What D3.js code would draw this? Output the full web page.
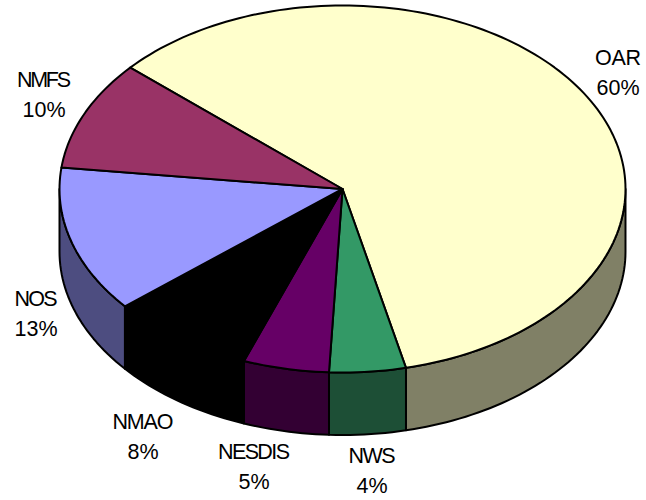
<!DOCTYPE html>
<html>
<head>
<meta charset="utf-8">
<script src="https://cdn.jsdelivr.net/npm/d3@7"></script>
<style>
  html, body { margin: 0; padding: 0; background: #fff; }
  text { font-family: "Liberation Sans", Arial, sans-serif; font-size: 21.5px; fill: #000; text-anchor: middle; }
</style>
</head>
<body>
<div id="chart"></div>
<script>
// Chart data, clockwise from the OAR slice
const agencies = ["OAR", "NWS", "NESDIS", "NMAO", "NOS", "NMFS"];
const shares = [59.9, 4.36, 4.9, 8.3, 12.9, 9.64];
const shareLabels = ["60%", "4%", "5%", "8%", "13%", "10%"];

// Colors for the top face and the side wall
const topColors = ["#FFFFCC", "#339966", "#660066", "#000000", "#9999FF", "#993366"];
const wallColors = ["#808066", "#1D4F36", "#330033", "#000000", "#4D4D80", "#4D1A33"];

// Label placement, by hand to sit where the original has them
const labelX = [618, 372, 254, 143, 36, 44];
const labelY = [65, 463, 459, 429, 306, 87];
const nameWidth = [46, 47, 72, 61, 43, 54];

const width = 646;
const height = 500;
const depth = 62.5;

const svg = d3.select("#chart")
    .append("svg")
    .attr("width", width)
    .attr("height", height);

// Unit circle squashed to the tilted ellipse
const x = d3.scaleLinear().domain([-1, 1]).range([59.5, 625.5]);
const y = d3.scaleLinear().domain([-1, 1]).range([5.5, 372.5]);

const pie = d3.pie()
    .sort(null)
    .startAngle(-48.6 * Math.PI / 180)
    .endAngle(311.4 * Math.PI / 180);

const slices = pie(shares);

const line = d3.line();

// Points along the rim between two angles (0 = top, clockwise)
function rim(a0, a1, dy) {
    const n = Math.max(2, Math.ceil((a1 - a0) * 40));
    return d3.range(n + 1).map(function(i) {
        const a = a0 + (a1 - a0) * i / n;
        return [x(Math.sin(a)), y(-Math.cos(a)) + dy];
    });
}

// Side walls only show on the front half
const frontStart = Math.PI / 2;
const frontEnd = Math.PI * 3 / 2;

slices.forEach(function(d, i) {
    const a0 = Math.max(d.startAngle, frontStart);
    const a1 = Math.min(d.endAngle, frontEnd);
    if (a1 <= a0) return;
    const pts = rim(a0, a1, 0).concat(rim(a0, a1, depth).reverse());
    svg.append("path")
        .attr("d", line(pts) + "Z")
        .attr("fill", wallColors[i])
        .attr("stroke", "#000")
        .attr("stroke-width", 2)
        .attr("stroke-linejoin", "round");
});

// Top face
svg.selectAll(".slice")
    .data(slices)
    .join("path")
    .attr("class", "slice")
    .attr("d", d => line([[x(0), y(0)]].concat(rim(d.startAngle, d.endAngle, 0))) + "Z")
    .attr("fill", (d, i) => topColors[i])
    .attr("stroke", "#000")
    .attr("stroke-width", 2)
    .attr("stroke-linejoin", "round");

// Labels
const labels = svg.selectAll(".label")
    .data(agencies)
    .join("g")
    .attr("class", "label")
    .attr("transform", (d, i) => `translate(${labelX[i]}, ${labelY[i]})`);

labels.append("text")
    .attr("textLength", (d, i) => nameWidth[i])
    .attr("lengthAdjust", "spacing")
    .text(d => d);

labels.append("text")
    .attr("y", 30)
    .text((d, i) => shareLabels[i]);
</script>
</body>
</html>
